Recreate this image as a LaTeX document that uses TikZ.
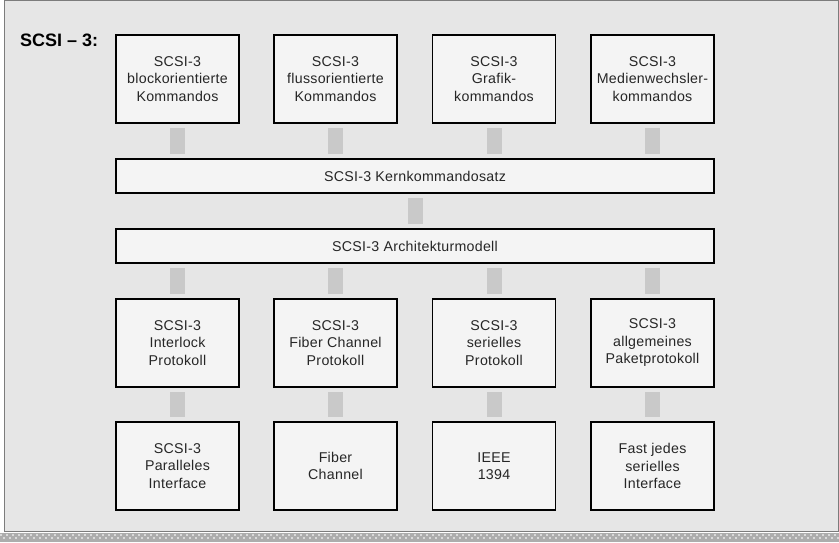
\documentclass[tikz,border=0pt]{standalone}
\usepackage{fontspec}
\setmainfont{Liberation Sans}
\newfontfamily\boxfont[LetterSpace=2]{Liberation Sans}
\usetikzlibrary{calc}
\definecolor{panelbg}{HTML}{E6E6E6}
\definecolor{panelrim}{HTML}{7C7C7C}
\definecolor{boxbg}{HTML}{F4F4F4}
\definecolor{linkgray}{HTML}{C9C9C9}
\definecolor{txt}{HTML}{262626}
\begin{document}
\begin{tikzpicture}[x=1pt,y=-1pt,
  layerbox/.style={draw=black,line width=1.4pt,fill=boxbg,inner sep=0pt,
    minimum width=123pt,minimum height=88pt,align=center,text=txt,
    font=\boxfont\fontsize{14.2}{17.5}\selectfont},
  widebar/.style={draw=black,line width=1.4pt,fill=boxbg,inner sep=0pt,
    minimum width=598pt,minimum height=34pt,text=txt,
    font=\boxfont\fontsize{14.2}{17.5}\selectfont},
  link/.style={draw=linkgray,line width=15pt,line cap=butt,
    shorten <=4.5pt,shorten >=4.5pt}]
\useasboundingbox (0,0) rectangle (839,543);
% background panel and textured base strip
\fill[white] (0,0) rectangle (839,543);
\draw[panelrim,fill=panelbg,line width=1pt] (4.5,1) rectangle (838.5,531);
\fill[black!32] (0,533) rectangle (839,542);
\foreach \i in {0,3,...,837} {
  \pgfmathsetmacro{\dy}{534+mod(\i,2)*3}
  \fill[white!85!black] (\i,\dy) rectangle +(1.5,2);
}
% title
\node[anchor=base west,font=\bfseries\fontsize{18}{20}\selectfont,inner sep=0pt]
  (title) at (20,47) {SCSI – 3:};
% command sets
\node[layerbox] (c1) at (177.5,79) {SCSI-3\\blockorientierte\\Kommandos};
\node[layerbox] (c2) at (335.5,79) {SCSI-3\\flussorientierte\\Kommandos};
\node[layerbox] (c3) at (494,79) {SCSI-3\\Grafik-\\kommandos};
\node[layerbox] (c4) at (652.5,79) {SCSI-3\\Medienwechsler-\\kommandos};
% core layers
\node[widebar] (kern) at (415,176) {SCSI-3 Kernkommandosatz};
\node[widebar] (arch) at (415,246) {SCSI-3 Architekturmodell};
% protocols
\node[layerbox] (p1) at (177.5,343) {SCSI-3\\Interlock\\Protokoll};
\node[layerbox] (p2) at (335.5,343) {SCSI-3\\Fiber Channel\\Protokoll};
\node[layerbox] (p3) at (494,343) {SCSI-3\\serielles\\Protokoll};
\node[layerbox] (p4) at (652.5,343) {SCSI-3\\allgemeines\\Paketprotokoll};
% physical interfaces
\node[layerbox] (i1) at (177.5,466) {SCSI-3\\Paralleles\\Interface};
\node[layerbox] (i2) at (335.5,466) {Fiber\\Channel};
\node[layerbox] (i3) at (494,466) {IEEE\\1394};
\node[layerbox] (i4) at (652.5,466) {Fast jedes\\serielles\\Interface};
% links between layers
\foreach \n in {1,2,3,4} {
  \draw[link] (c\n.south) -- (c\n.south |- kern.north);
  \draw[link] (p\n.north |- arch.south) -- (p\n.north);
  \draw[link] (p\n.south) -- (i\n.north);
}
\draw[link] (kern.south) -- (arch.north);
\end{tikzpicture}
\end{document}
